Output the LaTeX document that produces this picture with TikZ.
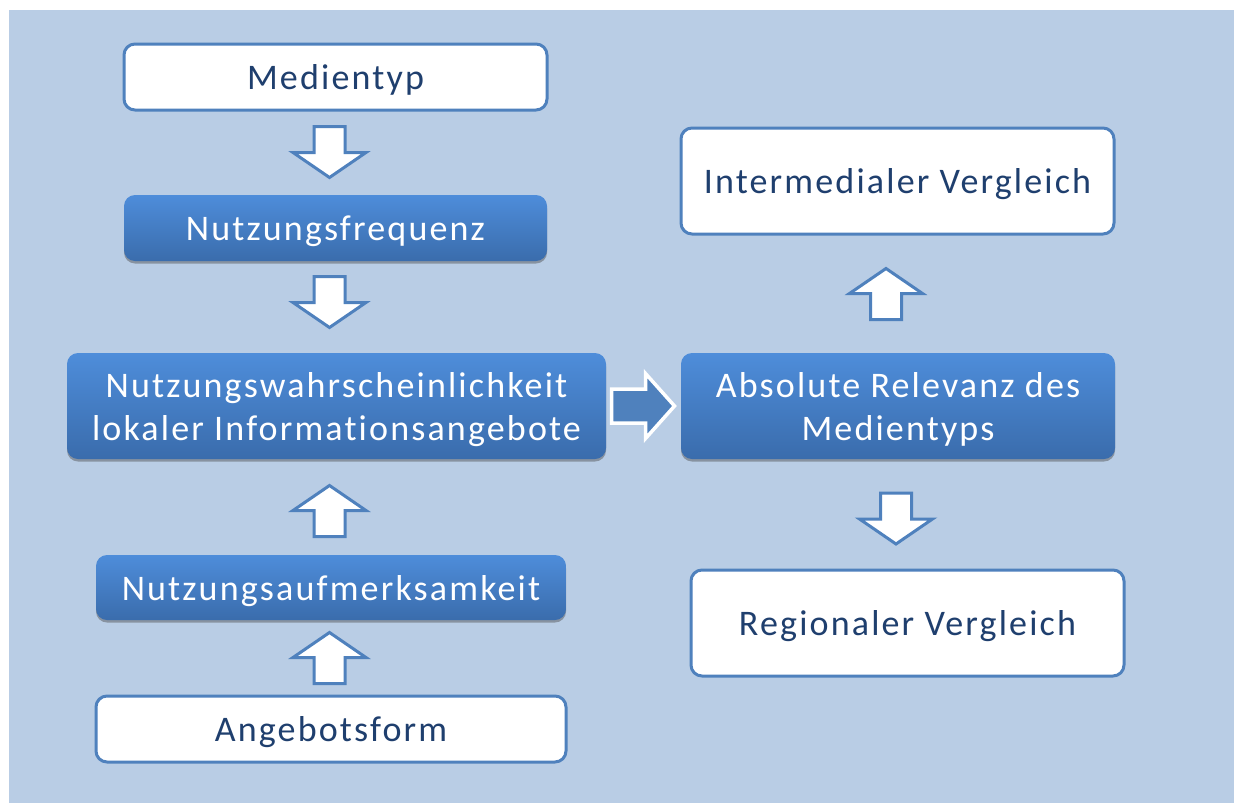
\documentclass[tikz,border=0pt]{standalone}
\usepackage{fontspec}
\newfontfamily\boxfont[LetterSpace=6,Ligatures=NoCommon]{Carlito}
\usetikzlibrary{shadows}
\definecolor{bgblue}{RGB}{185,205,229}
\definecolor{edgeblue}{RGB}{79,129,189}
\definecolor{txtblue}{RGB}{31,63,110}
\definecolor{gtop}{RGB}{78,141,218}
\definecolor{gbot}{RGB}{58,108,172}
\begin{document}
\begin{tikzpicture}[x=1pt,y=-1pt,
  every node/.style={font=\boxfont\fontsize{36}{43}\selectfont, align=center, inner sep=0pt, text depth=0pt},
  whitebox/.style={draw=edgeblue, line width=3pt, fill=white, rounded corners=11pt, text=txtblue},
  gradbox/.style={rounded corners=11pt, top color=gtop, bottom color=gbot, text=white,
     drop shadow={opacity=0.45, shadow xshift=0pt, shadow yshift=-2.5pt, fill=black!70}},
  blockarrow/.style={draw=edgeblue, line width=3pt, fill=white, line join=miter},
  downarr/.pic={\path[blockarrow] (-15.5,-25.5) -- (15.5,-25.5) -- (15.5,0.5) -- (36.5,0.5) -- (0,25.5) -- (-36.5,0.5) -- (-15.5,0.5) -- cycle;},
  rightarr/.pic={\path[draw=white, line width=3.5pt, fill=edgeblue, line join=miter] (-31.5,-17) -- (2.5,-17) -- (2.5,-32.5) -- (31.5,0) -- (2.5,32.5) -- (2.5,17) -- (-31.5,17) -- cycle;}
]
\useasboundingbox (0,0) rectangle (1234,803);
\fill[bgblue] (9,10) rectangle (1234,803);

% left column
\node[whitebox, minimum width=423pt, minimum height=66pt] (medientyp) at (335.5,77) {Medientyp};
\node[gradbox, minimum width=423pt, minimum height=66pt] (frequenz) at (335.5,228) {Nutzungsfrequenz};
\node[gradbox, minimum width=539pt, minimum height=106pt] (wahrsch) at (336.5,406) {Nutzungswahrscheinlichkeit\\lokaler Informationsangebote};
\node[gradbox, minimum width=470pt, minimum height=65pt] (aufmerk) at (331,587.5) {Nutzungsaufmerksamkeit};
\node[whitebox, minimum width=470pt, minimum height=66pt] (angebot) at (331,729) {Angebotsform};

% right column
\node[whitebox, minimum width=433pt, minimum height=106pt] (intermed) at (897.5,181) {Intermedialer Vergleich};
\node[gradbox, minimum width=434pt, minimum height=106pt] (relevanz) at (898,406) {Absolute Relevanz des\\Medientyps};
\node[whitebox, minimum width=433pt, minimum height=106pt] (regional) at (907.5,623) {Regionaler Vergleich};

% block arrows
\pic at (329.5,152) {downarr};
\pic at (329.5,302) {downarr};
\pic[rotate=180] at (329.5,511) {downarr};
\pic[rotate=180] at (329.5,658) {downarr};
\pic[rotate=180] at (886,294) {downarr};
\pic at (896,518.5) {downarr};
\pic at (643,406) {rightarr};
\end{tikzpicture}
\end{document}
